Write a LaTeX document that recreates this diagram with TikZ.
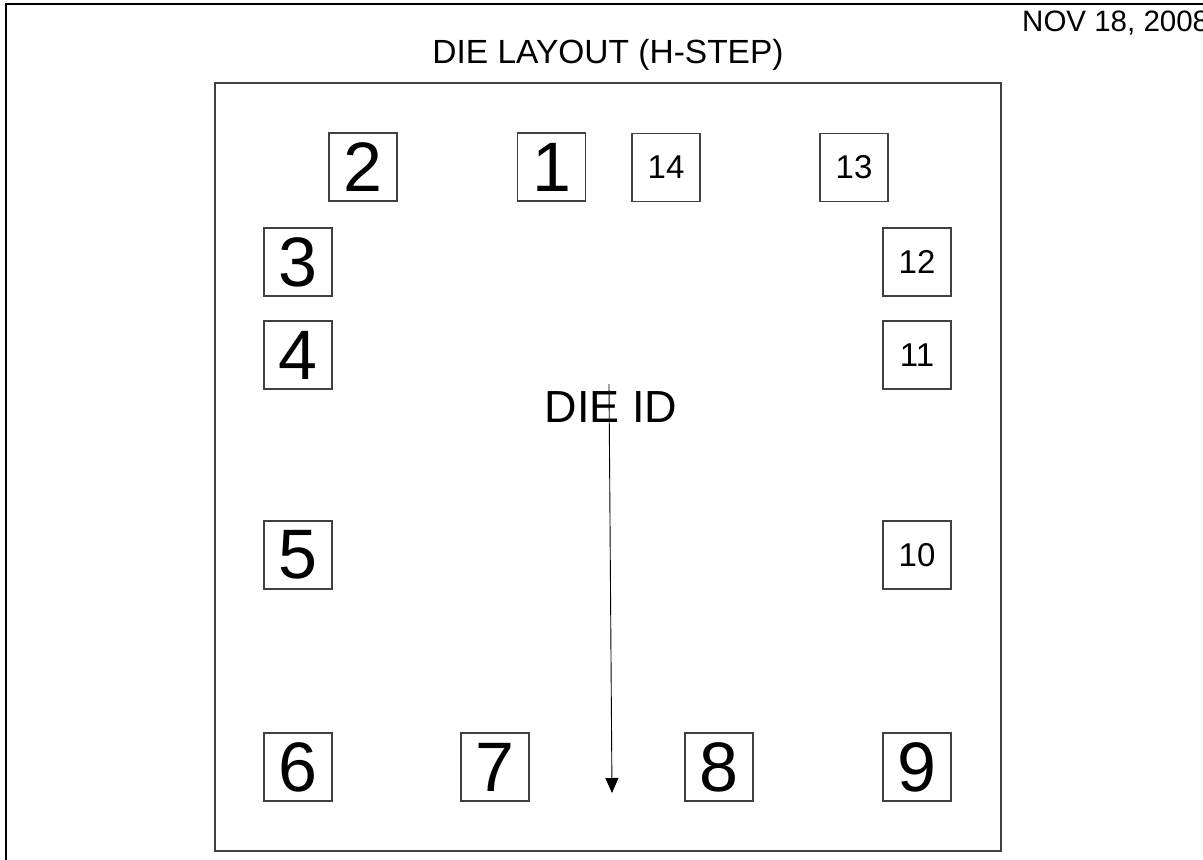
\documentclass[tikz,border=0pt]{standalone}
\usepackage{fontspec}
\setmainfont{Liberation Sans}
\usetikzlibrary{arrows.meta}

\begin{document}
\begin{tikzpicture}[x=1pt, y=-1pt, >={Triangle[length=15pt, width=13pt]},
  pad/.style={draw=black!75, line width=1.3pt, minimum size=68pt, inner sep=0pt, font=\fontsize{70}{70}\selectfont},
  spad/.style={pad, font=\fontsize{33}{33}\selectfont},
  lbl/.style={inner sep=0pt}]
  \useasboundingbox (0,0) rectangle (1203,860);
  \clip (0,0) rectangle (1203,860);
  % frame and die outline
  \draw[line width=2.5pt] (6,4) rectangle (1230,890);
  \draw[draw=black!75, line width=2pt] (215,83) rectangle (1001,851);
  \node[lbl, anchor=base west, font=\fontsize{29.5}{29.5}\selectfont] (date) at (1022,31) {NOV 18, 2008};
  \node[lbl, font=\fontsize{33.5}{33.5}\selectfont] (title) at (608,55) {DIE LAYOUT (H-STEP)};
  % bond pads
  \node[pad]  (p1)  at (551.5,167) {1};
  \node[pad]  (p2)  at (363,167)   {2};
  \node[pad]  (p3)  at (298,262)   {3};
  \node[pad]  (p4)  at (298,355)   {4};
  \node[pad]  (p5)  at (298,555)   {5};
  \node[pad]  (p6)  at (298,767)   {6};
  \node[pad]  (p7)  at (495,767)   {7};
  \node[pad]  (p8)  at (719,767)   {8};
  \node[pad]  (p9)  at (917,767)   {9};
  \node[spad] (p10) at (917,555)   {10};
  \node[spad] (p11) at (917,355)   {11};
  \node[spad] (p12) at (917,262)   {12};
  \node[spad] (p13) at (854,167.5) {13};
  \node[spad] (p14) at (666,167.5) {14};
  % die id and orientation arrow
  \node[lbl, font=\fontsize{45}{45}\selectfont] (id) at (611,407) {DIE ID};
  \coordinate (atail) at (609,384);
  \coordinate (ahead) at (612,793);
  \draw[->, line width=0.9pt] (atail) -- (ahead);
\end{tikzpicture}
\end{document}
